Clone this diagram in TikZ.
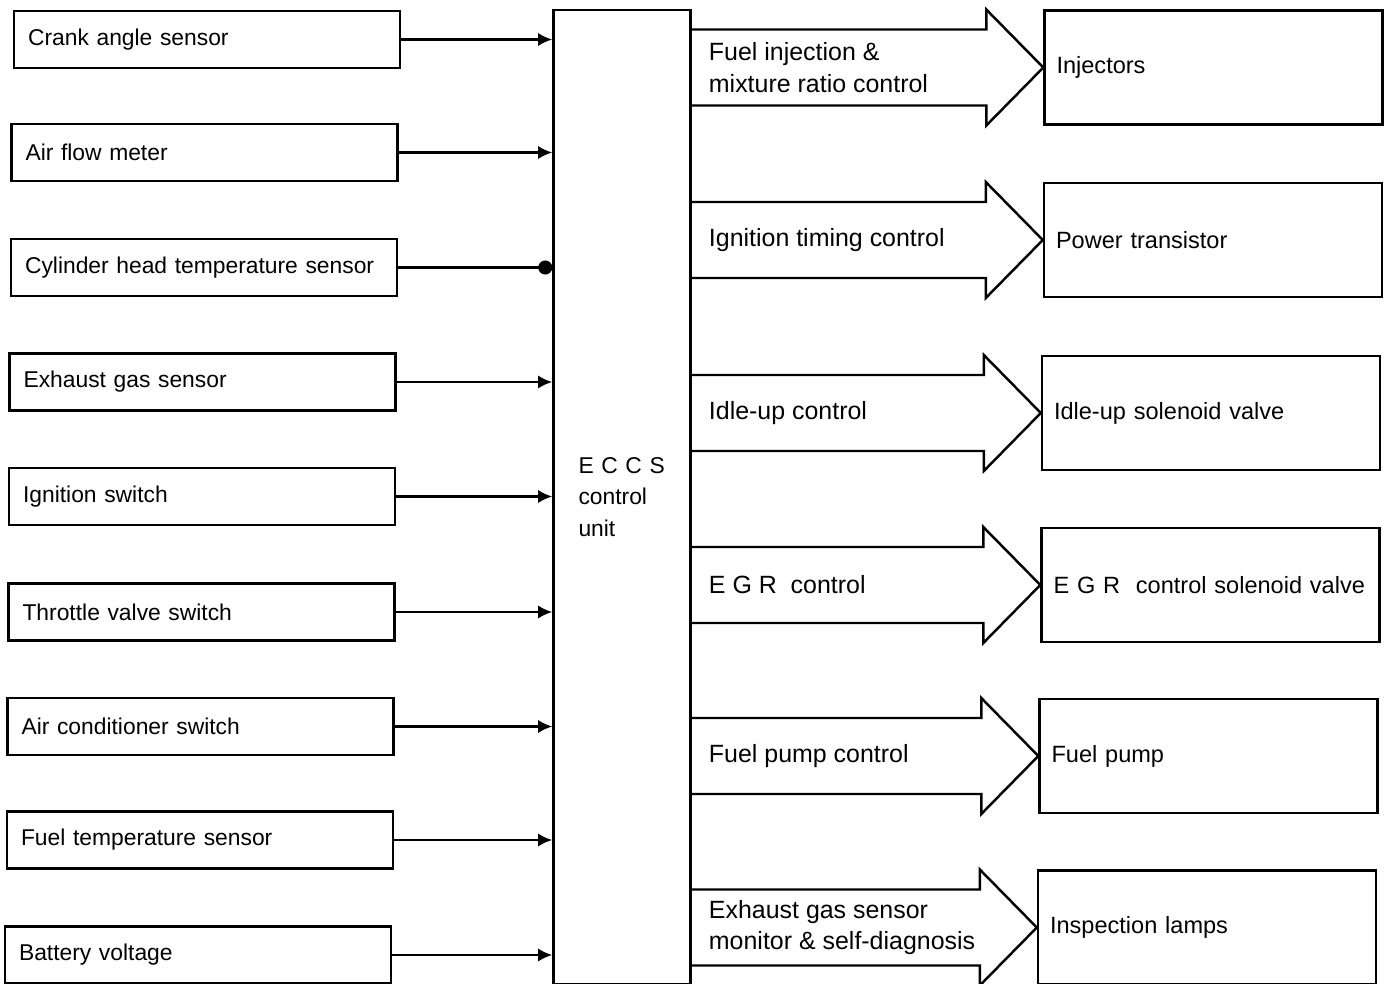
\documentclass[tikz,border=0pt]{standalone}
\usepackage{fontspec}
\setmainfont{Liberation Sans}
\usetikzlibrary{arrows.meta,calc}

\begin{document}
\begin{tikzpicture}[x=0.02cm,y=-0.02cm,
    font=\fontsize{13}{18}\selectfont, line width=1.4pt,
    sensor/.style={draw, minimum width=7.72cm, minimum height=1.14cm, inner xsep=0.28cm, text width=7.16cm, align=left},
    device/.style={draw, minimum width=6.76cm, minimum height=2.28cm, inner xsep=0.24cm, text width=6.28cm, align=left, font=\fontsize{13.4}{18}\selectfont},
    feed/.style={-{Latex[length=8pt,width=7.5pt]}}]
    \clip (0,0) rectangle (1384,984);
    % control unit
    \node[draw, minimum width=2.74cm, minimum height=19.48cm, inner xsep=0.5cm, text width=1.74cm, align=left] (eccs) at (622,497) {E C C S\\control\\unit};
    % sensors
    \node[sensor] (crank) at (207,39.5) {Crank angle sensor};
    \node[sensor] (airflow) at (204.5,152.5) {Air flow meter};
    \node[sensor] (cylhead) at (204,267.5) {Cylinder head temperature sensor};
    \node[sensor] (exhaust) at (202.5,382) {Exhaust gas sensor};
    \node[sensor] (ignsw) at (202,496.5) {Ignition switch};
    \node[sensor] (throttle) at (201.5,612) {Throttle valve switch};
    \node[sensor] (aircon) at (200.5,726.5) {Air conditioner switch};
    \node[sensor] (fueltemp) at (200,840) {Fuel temperature sensor};
    \node[sensor] (battery) at (198,955) {Battery voltage};
    \foreach \s in {crank,airflow,exhaust,ignsw,throttle,aircon,fueltemp,battery}
        \draw[feed] (\s.east) -- (\s.east -| eccs.west);
    \draw[-{Circle[length=8pt]}] (cylhead.east) -- (cylhead.east -| eccs.west);
    % actuators
    \node[device] (inj) at (1213.5,67.5) {Injectors};
    \node[device] (power) at (1213,240) {Power transistor};
    \node[device] (idle) at (1211,413) {Idle-up solenoid valve};
    \node[device] (egr) at (1210.5,585) {E G R~~control solenoid valve};
    \node[device] (pump) at (1208.5,756) {Fuel pump};
    \node[device] (lamps) at (1207,927.5) {Inspection lamps};
    % hollow arrows
    \foreach \d/\t in {inj/{Fuel injection \&\\mixture ratio control},
                      power/{Ignition timing control},
                      idle/{Idle-up control},
                      egr/{E G R~~control},
                      pump/{Fuel pump control},
                      lamps/{Exhaust gas sensor\\monitor \& self-diagnosis}}{
        \coordinate (hd) at ($(\d.west)+(-57,0)$);
        \draw ($(eccs.east |- hd)+(0,-38)$) -- ($(hd)+(0,-38)$) -- ($(hd)+(0,-58)$) -- (\d.west)
            -- ($(hd)+(0,58)$) -- ($(hd)+(0,38)$) -- ($(eccs.east |- hd)+(0,38)$);
        \node[anchor=west, align=left, inner sep=0pt, font=\fontsize{14.2}{18}\selectfont] (t-\d) at ($(eccs.east |- hd)+(16,0)$) {\t};
    }
\end{tikzpicture}
\end{document}
